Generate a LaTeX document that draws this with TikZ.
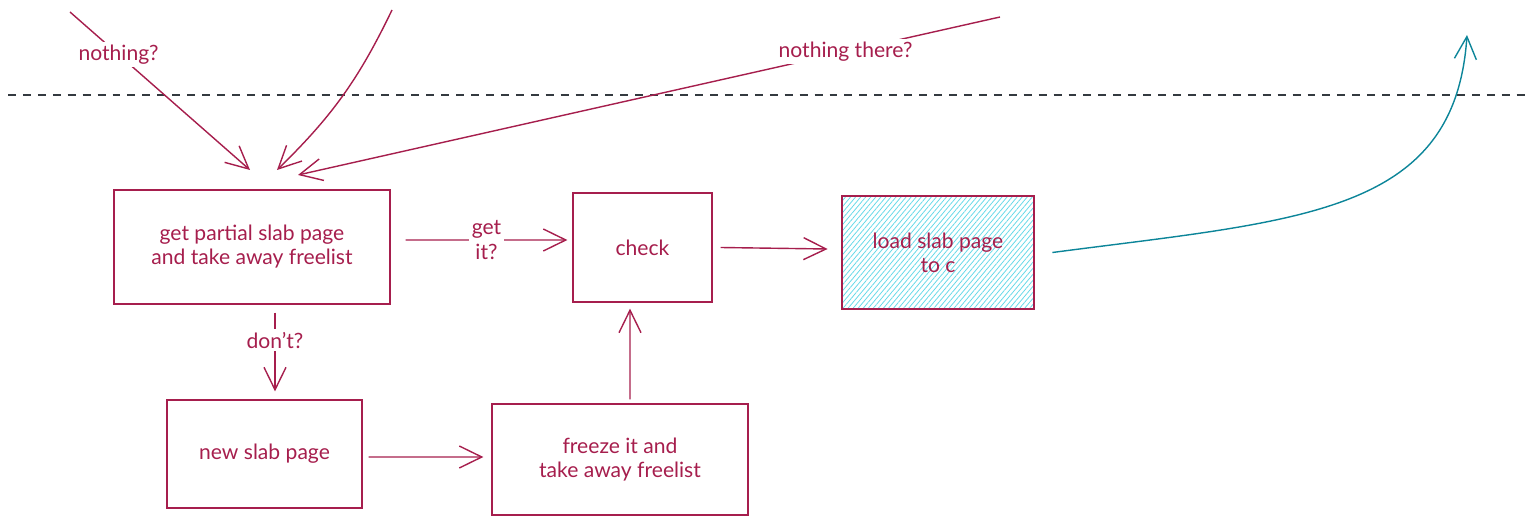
\documentclass[tikz,border=0pt]{standalone}
\usepackage{fontspec}
\setmainfont{Lato}
\usetikzlibrary{arrows.meta,patterns.meta,positioning}
\definecolor{slabred}{HTML}{A61E4D}
\definecolor{cputeal}{HTML}{0C8599}
\definecolor{hatchcyan}{HTML}{66D9E8}
\definecolor{layergray}{HTML}{343A40}

\begin{document}
\begin{tikzpicture}[
  x=1cm,
  y=1cm,
  font=\fontsize{12}{13.7}\selectfont,
  stepbox/.style={draw=slabred, text=slabred, align=center,
    line width=0.7pt, inner sep=2pt},
  flow/.style={-{Straight Barb[length=4.5mm,width=4.4mm]}, draw=slabred,
    line width=0.8pt},
  edgelabel/.style={fill=white, text=slabred, align=center, inner sep=1.5pt},
  layer/.style={draw=layergray, dash pattern=on 4.5pt off 4pt, line width=0.8pt}
]
\useasboundingbox (0,0) rectangle (30.7,10.5);

% Layer boundary
\coordinate (layerleft) at (0.16,8.6);
\coordinate (layerright) at (30.54,8.6);
\draw[layer] (layerleft) -- (layerright);

% Slow path boxes
\node[stepbox, minimum width=5.52cm, minimum height=2.28cm] (partial)
      at (5.04,5.56) {get partial slab page\\and take away freelist};
\node[stepbox, minimum width=2.78cm, minimum height=2.18cm] (check)
      at (12.85,5.55) {check};
\node[stepbox, minimum width=3.84cm, minimum height=2.26cm,
      pattern={Lines[angle=50,distance=2.2pt,line width=0.45pt]},
      pattern color=hatchcyan] (load)
      at (18.76,5.45) {load slab page\\to c};
\node[stepbox, minimum width=3.90cm, minimum height=2.16cm] (newslab)
      at (5.29,1.42) {new slab page};
\node[stepbox, minimum width=5.12cm, minimum height=2.22cm] (freeze)
      at (12.40,1.31) {freeze it and\\take away freelist};

\draw[flow] ([xshift=3mm,yshift=1.4mm]partial.east) --
      node[edgelabel] {get\\it?} ([xshift=-1mm,yshift=1.5mm]check.west);
\draw[flow] ([xshift=1.6mm]check.east) -- ([xshift=-2.8mm,yshift=0.7mm]load.west);
\draw[flow] ([xshift=4.6mm,yshift=-1.6mm]partial.south) --
      node[edgelabel, pos=0.35] {don't?} ([xshift=2.1mm,yshift=1.6mm]newslab.north);
\draw[flow] ([xshift=1.2mm,yshift=-0.6mm]newslab.east) --
      ([xshift=-1.6mm,yshift=0.5mm]freeze.west);
\draw[flow] ([xshift=2mm,yshift=0.8mm]freeze.north) --
      ([xshift=-2.5mm,yshift=-1.2mm]check.south);

% Entries from the fast path
\coordinate (nothingstart) at (1.40,10.26);
\coordinate (nothingtip) at (5.00,7.10);
\coordinate (fasttop) at (7.84,10.30);
\coordinate (fasttip) at (5.54,7.10);
\coordinate (therestart) at (20.00,10.16);
\coordinate (theretip) at (5.96,7.00);
\draw[flow] (nothingstart) -- node[edgelabel, pos=0.27] {nothing?} (nothingtip);
\draw[flow] (fasttop) to[bend left=10] (fasttip);
\draw[flow] (therestart) -- node[edgelabel, pos=0.22] {nothing there?} (theretip);

% Back to the fast path
\coordinate (cpuback) at (29.34,9.80);
\draw[flow, draw=cputeal] ([xshift=3.6mm]load.east)
      .. controls (26.0,6.1) and (29.1,6.2) .. (cpuback);
\end{tikzpicture}
\end{document}
